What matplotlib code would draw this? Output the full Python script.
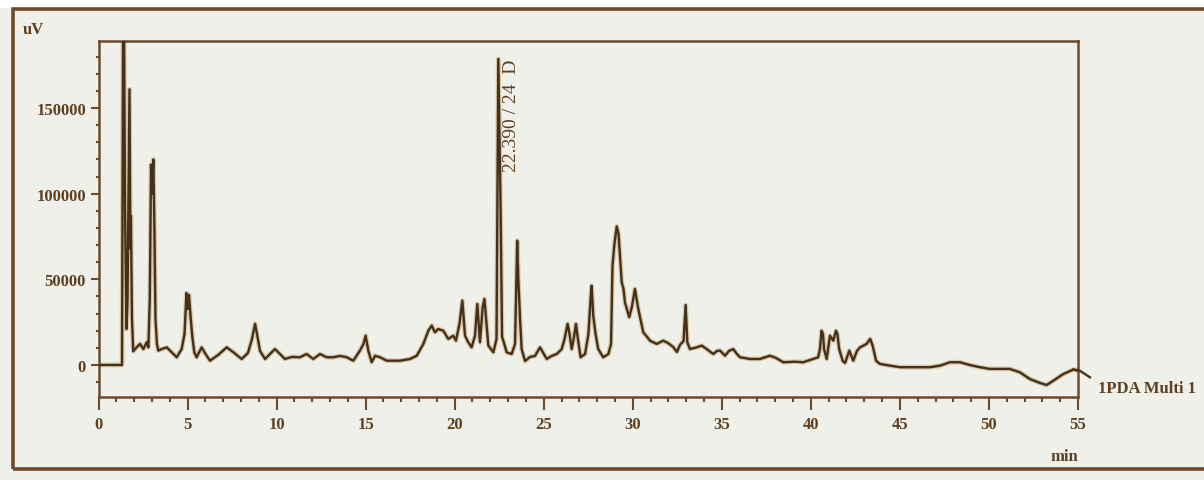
import matplotlib
matplotlib.use("Agg")
import matplotlib.pyplot as plt
from matplotlib.ticker import MultipleLocator
from matplotlib.patches import Rectangle
import numpy as np

# ---- data (time in min, signal in uV) ----
time_min = [
    0.00, 1.32, 1.40, 1.49, 1.57, 1.63, 1.74, 1.79, 1.82, 1.88, 1.95,
    2.14, 2.33, 2.52, 2.71, 2.80, 2.88, 2.95, 3.00, 3.08, 3.14, 3.20, 3.28,
    3.36, 3.55, 3.83, 4.11, 4.39, 4.67, 4.83, 4.94, 5.01, 5.08, 5.18, 5.27,
    5.38, 5.51, 5.79, 6.01, 6.26, 6.71, 7.20, 7.55, 8.04, 8.39, 8.62, 8.79,
    8.90, 9.07, 9.35, 9.91, 10.47, 10.86, 11.31, 11.69, 12.06, 12.44, 12.81,
    13.18, 13.56, 13.94, 14.31, 14.68, 14.88, 15.00, 15.15, 15.34, 15.53,
    15.81, 16.18, 16.93, 17.49, 17.87, 18.24, 18.52, 18.71, 18.89, 19.08,
    19.36, 19.64, 19.92, 20.07, 20.27, 20.43, 20.58, 20.76, 20.95, 21.14,
    21.27, 21.42, 21.57, 21.67, 21.89, 22.17, 22.35, 22.45, 22.57, 22.66,
    22.73, 22.92, 23.20, 23.39, 23.51, 23.58, 23.67, 23.76, 23.95, 24.23,
    24.51, 24.79, 25.17, 25.45, 25.73, 26.01, 26.17, 26.34, 26.45, 26.57,
    26.70, 26.81, 26.92, 27.07, 27.32, 27.51, 27.63, 27.69, 27.78, 27.91,
    28.06, 28.34, 28.63, 28.78, 28.86, 28.97, 29.10, 29.20, 29.28, 29.38,
    29.48, 29.56, 29.80, 29.95, 30.12, 30.31, 30.43, 30.59, 30.97, 31.34,
    31.71, 31.98, 32.27, 32.48, 32.65, 32.85, 32.97, 33.06, 33.21, 33.59,
    33.87, 34.15, 34.52, 34.73, 34.90, 35.18, 35.40, 35.64, 35.85, 36.02,
    36.58, 37.14, 37.70, 38.04, 38.45, 39.10, 39.57, 40.13, 40.41, 40.51,
    40.60, 40.68, 40.74, 40.89, 41.07, 41.26, 41.41, 41.49, 41.59, 41.79,
    41.92, 42.16, 42.38, 42.59, 42.76, 42.94, 43.13, 43.33, 43.47, 43.66,
    43.88, 44.45, 45.01, 45.57, 46.13, 46.69, 47.25, 47.81, 48.37, 48.92,
    49.49, 50.05, 50.61, 51.17, 51.74, 52.30, 52.86, 53.24, 53.61, 54.17,
    54.73, 55.10, 55.67,
]
signal_uv = [
    0, 0, 260000, 92000, 21000, 38000, 161000, 68000, 87000, 27000, 8000,
    10300, 12300, 9300, 13300, 10300, 38500, 117000, 100000, 120000, 79400, 26900, 12300,
    8400, 9300, 10300, 7400, 4500, 9300, 18100, 42000, 32700, 40900, 26900, 16400,
    7400, 4500, 10300, 6400, 2500, 5800, 10300, 7600, 3500, 7000, 15200, 24000,
    18100, 8200, 3500, 9300, 3500, 4700, 4500, 6400, 3500, 6400, 4500,
    4500, 5300, 4500, 2500, 8400, 12300, 17100, 8400, 1600, 5400,
    4500, 2500, 2500, 3500, 5400, 12300, 20000, 23000, 19100, 21000,
    20000, 15200, 17100, 14200, 24000, 37600, 17100, 13300, 10300, 17100,
    35600, 13300, 33700, 38500, 11300, 7400, 15200, 178700, 97000, 16400,
    14200, 7400, 6400, 12300, 72600, 48500, 26900, 9300, 2300, 4700,
    5300, 10300, 3500, 5300, 6400, 9300, 15200, 24000, 18100, 9300,
    16400, 24000, 15200, 4500, 6400, 18100, 38500, 46300, 28800, 18100,
    9300, 4500, 6400, 12300, 57800, 70700, 80900, 76500, 63800, 48300,
    44400, 36600, 27900, 33900, 44400, 32700, 26900, 19100, 14200, 12300,
    14200, 12800, 10500, 7600, 11700, 14000, 35000, 13300, 9300, 10300,
    11300, 9300, 6400, 8200, 8400, 5400, 8200, 9300, 6400, 4500,
    3500, 3500, 5400, 4100, 1600, 1900, 1600, 3500, 4500, 9300,
    20000, 18100, 9300, 3500, 17100, 14200, 20000, 18100, 9300, 2300,
    1200, 8400, 2500, 8200, 10300, 11300, 12300, 15200, 11300, 2500,
    600, -400, -1300, -1300, -1300, -1300, -400, 1600, 1600, 0,
    -1300, -2300, -2300, -2300, -4300, -8200, -10500, -11700, -9200, -5300,
    -2700, -3300, -7200,
]
x_ticks = [0, 5, 10, 15, 20, 25, 30, 35, 40, 45, 50, 55]
y_ticks = [0, 50000, 100000, 150000]
peak_label = "22.390 / 24  D"
peak_label_pos = (23.19, 113300)
channel_label = "1PDA Multi 1"

# ---- styling ----
BG = "#eef0e9"
BROWN = "#6c4a2b"
LINE = "#45301a"
HALO = "#c9ab7e"
TXT = "#5e3f20"
FONT = ["Liberation Serif", "DejaVu Serif"]

W, H = 1204, 481
fig = plt.figure(figsize=(W / 100, H / 100), dpi=100, facecolor=BG)

# white strip at very top, outer border frame
fig.patches.append(Rectangle((0, 1 - 9 / H), 1, 9 / H, transform=fig.transFigure,
                             facecolor="white", edgecolor="none", zorder=0))
fig.patches.append(Rectangle((13 / W, 1 - 470 / H), 1.2, (470 - 10) / H,
                             transform=fig.transFigure, facecolor="none",
                             edgecolor=BROWN, linewidth=2.6, zorder=1))

l, r, t, b = 98.5, 1078, 42, 398
ax = fig.add_axes([l / W, 1 - b / H, (r - l) / W, (b - t) / H])
ax.set_facecolor(BG)

tt = np.array(time_min)
vv = np.array(signal_uv)

ax.plot(tt, vv, color=HALO, lw=3.4, alpha=0.6, solid_joinstyle="round", zorder=2)
ax.plot(tt, vv, color=LINE, lw=1.7, solid_joinstyle="round", zorder=3)
tail = tt >= 54.73
ax.plot(tt[tail], vv[tail], color=LINE, lw=1.7, clip_on=False, zorder=3)

ax.set_xlim(0, 55)
ax.set_ylim(-18700, 189200)

ax.set_xticks(x_ticks)
ax.set_xticklabels([str(v) for v in x_ticks])
ax.set_yticks(y_ticks)
ax.set_yticklabels([str(v) for v in y_ticks])
ax.xaxis.set_minor_locator(MultipleLocator(1))
ax.yaxis.set_minor_locator(MultipleLocator(10000))

for s in ax.spines.values():
    s.set_color(BROWN)
    s.set_linewidth(1.8)

ax.tick_params(axis="x", which="major", direction="out", length=9, width=1.5,
               color=BROWN, pad=5, labelsize=12, labelcolor=TXT)
ax.tick_params(axis="x", which="minor", direction="out", length=3.5, width=1.5,
               color=BROWN)
ax.tick_params(axis="y", which="major", direction="out", length=6, width=1.5,
               color=BROWN, pad=3, labelsize=12, labelcolor=TXT)
ax.tick_params(axis="y", which="minor", direction="out", length=2.5, width=1.5,
               color=BROWN)
for lab in ax.get_xticklabels() + ax.get_yticklabels():
    lab.set_fontfamily(FONT)
    lab.set_fontweight("bold")

ax.text(peak_label_pos[0], peak_label_pos[1], peak_label, rotation=90,
        ha="center", va="bottom", fontsize=14, color=TXT, family=FONT)

fig.text(33 / W, 1 - 30 / H, "uV", ha="center", va="center", fontsize=12,
         color=TXT, family=FONT, fontweight="bold")
fig.text(1078 / W, 1 - 457 / H, "min", ha="right", va="center", fontsize=12,
         color=TXT, family=FONT, fontweight="bold")
fig.text(1098 / W, 1 - 389 / H, channel_label, ha="left", va="center",
         fontsize=12, color=TXT, family=FONT, fontweight="bold")

fig.savefig("out.png", dpi=100, facecolor=BG)
